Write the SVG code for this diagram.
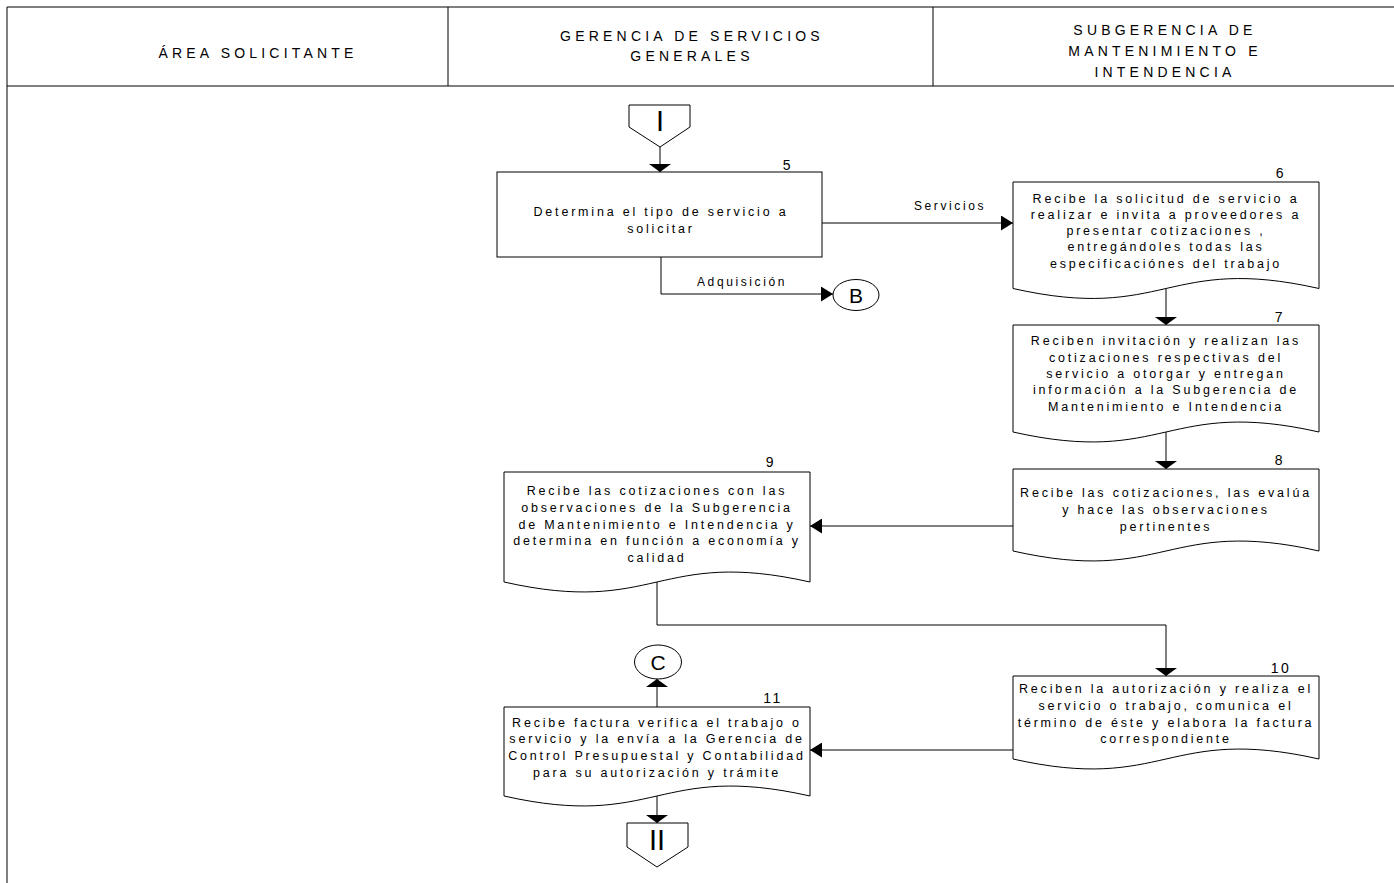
<svg xmlns="http://www.w3.org/2000/svg" width="1394" height="883" viewBox="0 0 1394 883">
  <style>
    .frame { fill: none; stroke: #000; stroke-width: 1; }
    .shape { fill: #fff; stroke: #000; stroke-width: 1; }
    .wire { fill: none; stroke: #000; stroke-width: 1; }
    .head { font-family: "Liberation Sans", Arial, sans-serif; font-size: 14px; letter-spacing: 4.2px; fill: #000; text-anchor: middle; }
    .txt { font-family: "Liberation Sans", Arial, sans-serif; font-size: 12.5px; letter-spacing: 2.8px; fill: #000; text-anchor: middle; }
    .num { font-family: "Liberation Sans", Arial, sans-serif; font-size: 14px; letter-spacing: 2.5px; fill: #000; text-anchor: middle; }
    .lbl { font-family: "Liberation Sans", Arial, sans-serif; font-size: 12px; letter-spacing: 2.6px; fill: #000; text-anchor: middle; }
    .big { font-family: "Liberation Sans", Arial, sans-serif; font-size: 29px; fill: #000; text-anchor: middle; }
    .circ { font-family: "Liberation Sans", Arial, sans-serif; font-size: 21px; fill: #000; text-anchor: middle; }
  </style>
  <defs>
    <!-- flattened head for vertical flow lines -->
    <marker id="arrowV" viewBox="0 0 8 22" refX="8" refY="11" markerWidth="8" markerHeight="22" markerUnits="userSpaceOnUse" orient="auto">
      <path d="M0,0 L8,11 L0,22 Z" fill="#000"/>
    </marker>
    <!-- head for horizontal flow lines -->
    <marker id="arrowH" viewBox="0 0 12 15" refX="12" refY="7.5" markerWidth="12" markerHeight="15" markerUnits="userSpaceOnUse" orient="auto">
      <path d="M0,0 L12,7.5 L0,15 Z" fill="#000"/>
    </marker>
  </defs>

  <rect width="1394" height="883" fill="#fff"/>

  <!-- swimlane header -->
  <g id="header">
    <line class="frame" x1="7" y1="7" x2="1394" y2="7"/>
    <line class="frame" x1="7" y1="86" x2="1394" y2="86"/>
    <line class="frame" x1="7" y1="7" x2="7" y2="883"/>
    <line class="frame" x1="448" y1="7" x2="448" y2="86"/>
    <line class="frame" x1="933" y1="7" x2="933" y2="86"/>
    <text class="head" x="258" y="58">ÁREA SOLICITANTE</text>
    <text class="head" x="692" y="41">GERENCIA DE SERVICIOS</text>
    <text class="head" x="692" y="61">GENERALES</text>
    <text class="head" x="1165" y="35">SUBGERENCIA DE</text>
    <text class="head" x="1165" y="56">MANTENIMIENTO E</text>
    <text class="head" x="1165" y="77">INTENDENCIA</text>
  </g>

  <!-- connectors -->
  <g id="connectors">
    <line class="wire" x1="660" y1="147" x2="660" y2="172" marker-end="url(#arrowV)"/>
    <line class="wire" x1="822" y1="223" x2="1013" y2="223" marker-end="url(#arrowH)"/>
    <text class="lbl" x="950" y="210">Servicios</text>
    <polyline class="wire" points="661,257 661,294 833,294" marker-end="url(#arrowH)"/>
    <text class="lbl" x="742" y="286">Adquisición</text>
    <line class="wire" x1="1166" y1="289" x2="1166" y2="325" marker-end="url(#arrowV)"/>
    <line class="wire" x1="1166" y1="432" x2="1166" y2="469" marker-end="url(#arrowV)"/>
    <line class="wire" x1="1013" y1="526" x2="810" y2="526" marker-end="url(#arrowH)"/>
    <polyline class="wire" points="657,582 657,625 1166,625 1166,676" marker-end="url(#arrowV)"/>
    <line class="wire" x1="1013" y1="750" x2="810" y2="750" marker-end="url(#arrowH)"/>
    <line class="wire" x1="657" y1="707" x2="657" y2="679" marker-end="url(#arrowV)"/>
    <line class="wire" x1="657" y1="796" x2="657" y2="823" marker-end="url(#arrowV)"/>
  </g>

  <!-- off-page connector I -->
  <g id="offpage-I">
    <polygon class="shape" points="629,105 690,105 690,127 660,147 629,127"/>
    <text class="big" x="660" y="131">I</text>
  </g>

  <!-- step 5 -->
  <g id="step-5">
    <rect class="shape" x="497" y="172" width="325" height="85"/>
    <text class="num" x="788" y="170">5</text>
    <text class="txt" x="661" y="216">Determina el tipo de servicio a</text>
    <text class="txt" x="661" y="233">solicitar</text>
  </g>

  <!-- on-page connector B -->
  <g id="conn-B">
    <ellipse class="shape" cx="856" cy="295" rx="23" ry="15.5"/>
    <text class="circ" x="856" y="302.5">B</text>
  </g>

  <!-- step 6 -->
  <g id="step-6">
    <path class="shape" d="M1013,182 H1319 V288.5 C1166,254 1166,323 1013,288.5 Z"/>
    <text class="num" x="1281" y="178">6</text>
    <text class="txt" x="1166" y="203">Recibe la solicitud de servicio a</text>
    <text class="txt" x="1166" y="219">realizar e invita a proveedores a</text>
    <text class="txt" x="1166" y="235">presentar cotizaciones ,</text>
    <text class="txt" x="1166" y="251">entregándoles todas las</text>
    <text class="txt" x="1166" y="268">especificaciónes del trabajo</text>
  </g>

  <!-- step 7 -->
  <g id="step-7">
    <path class="shape" d="M1013,325 H1319 V432 C1166,397.5 1166,466.5 1013,432 Z"/>
    <text class="num" x="1280" y="322">7</text>
    <text class="txt" x="1166" y="345">Reciben invitación y realizan las</text>
    <text class="txt" x="1166" y="362">cotizaciones respectivas del</text>
    <text class="txt" x="1166" y="378">servicio a otorgar y entregan</text>
    <text class="txt" x="1166" y="394">información a la Subgerencia de</text>
    <text class="txt" x="1166" y="411">Mantenimiento e Intendencia</text>
  </g>

  <!-- step 8 -->
  <g id="step-8">
    <path class="shape" d="M1013,469 H1319 V551 C1166,516.5 1166,585.5 1013,551 Z"/>
    <text class="num" x="1280" y="465">8</text>
    <text class="txt" x="1166" y="497">Recibe las cotizaciones, las evalúa</text>
    <text class="txt" x="1166" y="514">y hace las observaciones</text>
    <text class="txt" x="1166" y="531">pertinentes</text>
  </g>

  <!-- step 9 -->
  <g id="step-9">
    <path class="shape" d="M504,472 H810 V582 C657,547.5 657,616.5 504,582 Z"/>
    <text class="num" x="771" y="467">9</text>
    <text class="txt" x="657" y="495">Recibe las cotizaciones con las</text>
    <text class="txt" x="657" y="512">observaciones de la Subgerencia</text>
    <text class="txt" x="657" y="529">de Mantenimiento e Intendencia y</text>
    <text class="txt" x="657" y="545">determina en función a economía y</text>
    <text class="txt" x="657" y="562">calidad</text>
  </g>

  <!-- step 10 -->
  <g id="step-10">
    <path class="shape" d="M1013,676 H1319 V759 C1166,724.5 1166,793.5 1013,759 Z"/>
    <text class="num" x="1281" y="673">10</text>
    <text class="txt" x="1166" y="693">Reciben la autorización y realiza el</text>
    <text class="txt" x="1166" y="710">servicio o trabajo, comunica el</text>
    <text class="txt" x="1166" y="727">término de éste y elabora la factura</text>
    <text class="txt" x="1166" y="743">correspondiente</text>
  </g>

  <!-- on-page connector C -->
  <g id="conn-C">
    <ellipse class="shape" cx="658" cy="662" rx="23.5" ry="17"/>
    <text class="circ" x="658" y="669.5">C</text>
  </g>

  <!-- step 11 -->
  <g id="step-11">
    <path class="shape" d="M504,707 H810 V796 C657,761.5 657,830.5 504,796 Z"/>
    <text class="num" x="773" y="703">11</text>
    <text class="txt" x="657" y="727">Recibe factura verifica el trabajo o</text>
    <text class="txt" x="657" y="743">servicio y la envía a la Gerencia de</text>
    <text class="txt" x="657" y="760">Control Presupuestal y Contabilidad</text>
    <text class="txt" x="657" y="777">para su autorización y trámite</text>
  </g>

  <!-- off-page connector II -->
  <g id="offpage-II">
    <polygon class="shape" points="627,823 688,823 688,847 657,867 627,847"/>
    <text class="big" x="657" y="850">II</text>
  </g>
</svg>
